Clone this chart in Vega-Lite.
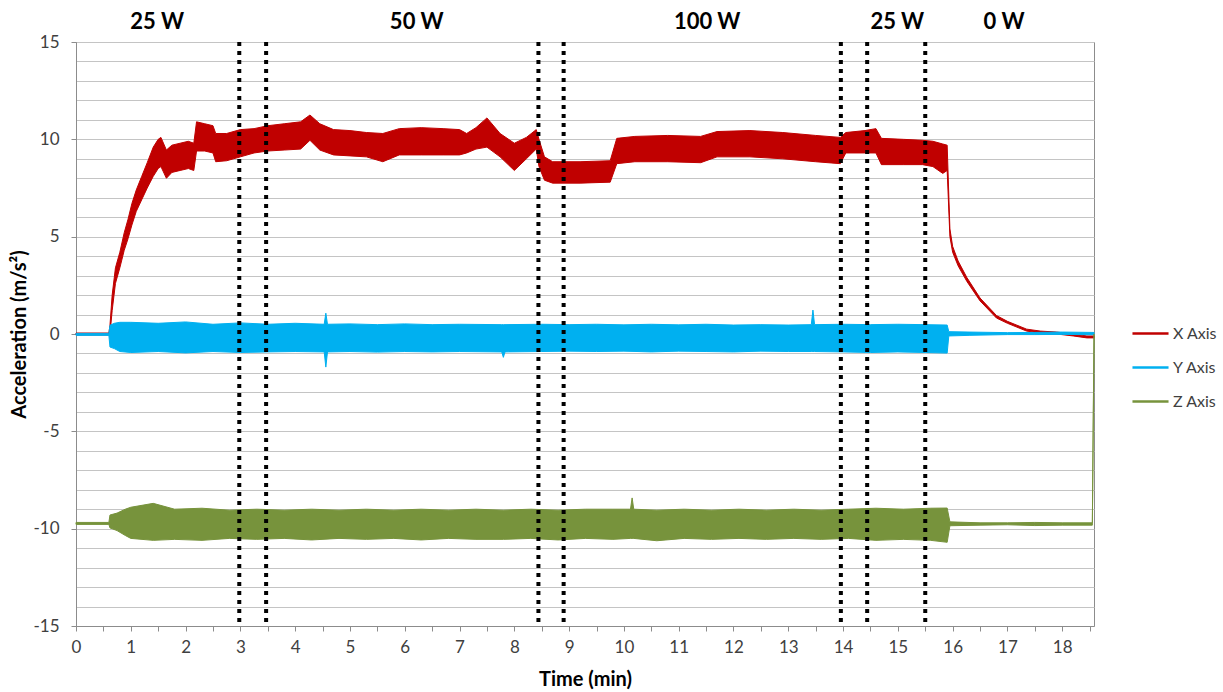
{
  "$schema": "https://vega.github.io/schema/vega-lite/v6.json",
  "width": 1018,
  "height": 584,
  "autosize": {"type": "none"},
  "padding": {"left": 76, "top": 42, "right": 129, "bottom": 66},
  "config": {
    "font": "Lato",
    "view": {"stroke": "#8c8c8c", "strokeWidth": 1},
    "axis": {"labelFont": "Lato", "titleFont": "Lato", "labelColor": "#404040", "titleColor": "#000000", "domainColor": "#8c8c8c", "tickColor": "#8c8c8c"}
  },
  "datasets": {
    "bands": [
      {"t": 0, "lo": -0.05, "hi": 0.05, "series": "X Axis"},
      {"t": 0.6, "lo": -0.05, "hi": 0.05, "series": "X Axis"},
      {"t": 0.62, "lo": 0.0, "hi": 0.45, "series": "X Axis"},
      {"t": 0.66, "lo": 1.2, "hi": 2.0, "series": "X Axis"},
      {"t": 0.72, "lo": 2.6, "hi": 3.4, "series": "X Axis"},
      {"t": 0.8, "lo": 3.4, "hi": 4.2, "series": "X Axis"},
      {"t": 0.88, "lo": 4.3, "hi": 5.2, "series": "X Axis"},
      {"t": 0.95, "lo": 4.9, "hi": 5.9, "series": "X Axis"},
      {"t": 1.02, "lo": 5.6, "hi": 6.7, "series": "X Axis"},
      {"t": 1.1, "lo": 6.3, "hi": 7.4, "series": "X Axis"},
      {"t": 1.2, "lo": 6.9, "hi": 8.1, "series": "X Axis"},
      {"t": 1.3, "lo": 7.5, "hi": 8.8, "series": "X Axis"},
      {"t": 1.41, "lo": 8.1, "hi": 9.6, "series": "X Axis"},
      {"t": 1.5, "lo": 8.5, "hi": 10.0, "series": "X Axis"},
      {"t": 1.55, "lo": 8.6, "hi": 10.1, "series": "X Axis"},
      {"t": 1.65, "lo": 8.0, "hi": 9.45, "series": "X Axis"},
      {"t": 1.75, "lo": 8.3, "hi": 9.7, "series": "X Axis"},
      {"t": 1.9, "lo": 8.4, "hi": 9.8, "series": "X Axis"},
      {"t": 2.05, "lo": 8.5, "hi": 9.9, "series": "X Axis"},
      {"t": 2.15, "lo": 8.4, "hi": 9.8, "series": "X Axis"},
      {"t": 2.2, "lo": 9.4, "hi": 10.9, "series": "X Axis"},
      {"t": 2.35, "lo": 9.4, "hi": 10.8, "series": "X Axis"},
      {"t": 2.5, "lo": 9.3, "hi": 10.7, "series": "X Axis"},
      {"t": 2.55, "lo": 8.85, "hi": 10.3, "series": "X Axis"},
      {"t": 2.75, "lo": 8.9, "hi": 10.3, "series": "X Axis"},
      {"t": 3.0, "lo": 9.1, "hi": 10.5, "series": "X Axis"},
      {"t": 3.25, "lo": 9.3, "hi": 10.55, "series": "X Axis"},
      {"t": 3.5, "lo": 9.4, "hi": 10.7, "series": "X Axis"},
      {"t": 3.8, "lo": 9.45, "hi": 10.8, "series": "X Axis"},
      {"t": 4.1, "lo": 9.5, "hi": 10.9, "series": "X Axis"},
      {"t": 4.27, "lo": 9.95, "hi": 11.25, "series": "X Axis"},
      {"t": 4.45, "lo": 9.45, "hi": 10.8, "series": "X Axis"},
      {"t": 4.7, "lo": 9.2, "hi": 10.5, "series": "X Axis"},
      {"t": 5.0, "lo": 9.15, "hi": 10.45, "series": "X Axis"},
      {"t": 5.3, "lo": 9.1, "hi": 10.35, "series": "X Axis"},
      {"t": 5.6, "lo": 8.85, "hi": 10.3, "series": "X Axis"},
      {"t": 5.9, "lo": 9.2, "hi": 10.55, "series": "X Axis"},
      {"t": 6.3, "lo": 9.2, "hi": 10.6, "series": "X Axis"},
      {"t": 6.7, "lo": 9.2, "hi": 10.55, "series": "X Axis"},
      {"t": 7.0, "lo": 9.2, "hi": 10.5, "series": "X Axis"},
      {"t": 7.13, "lo": 9.3, "hi": 10.3, "series": "X Axis"},
      {"t": 7.3, "lo": 9.5, "hi": 10.6, "series": "X Axis"},
      {"t": 7.5, "lo": 9.6, "hi": 11.1, "series": "X Axis"},
      {"t": 7.74, "lo": 9.1, "hi": 10.3, "series": "X Axis"},
      {"t": 8.0, "lo": 8.4, "hi": 9.8, "series": "X Axis"},
      {"t": 8.22, "lo": 9.0, "hi": 10.1, "series": "X Axis"},
      {"t": 8.4, "lo": 9.5, "hi": 10.5, "series": "X Axis"},
      {"t": 8.45, "lo": 8.6, "hi": 10.0, "series": "X Axis"},
      {"t": 8.55, "lo": 7.9, "hi": 9.1, "series": "X Axis"},
      {"t": 8.7, "lo": 7.75, "hi": 8.85, "series": "X Axis"},
      {"t": 9.2, "lo": 7.75, "hi": 8.85, "series": "X Axis"},
      {"t": 9.75, "lo": 7.8, "hi": 8.9, "series": "X Axis"},
      {"t": 9.87, "lo": 8.75, "hi": 10.05, "series": "X Axis"},
      {"t": 10.2, "lo": 8.85, "hi": 10.15, "series": "X Axis"},
      {"t": 10.8, "lo": 8.85, "hi": 10.2, "series": "X Axis"},
      {"t": 11.4, "lo": 8.8, "hi": 10.15, "series": "X Axis"},
      {"t": 11.7, "lo": 9.1, "hi": 10.4, "series": "X Axis"},
      {"t": 12.3, "lo": 9.1, "hi": 10.45, "series": "X Axis"},
      {"t": 12.9, "lo": 9.0, "hi": 10.35, "series": "X Axis"},
      {"t": 13.5, "lo": 8.85, "hi": 10.2, "series": "X Axis"},
      {"t": 13.95, "lo": 8.75, "hi": 10.1, "series": "X Axis"},
      {"t": 14.05, "lo": 9.3, "hi": 10.35, "series": "X Axis"},
      {"t": 14.4, "lo": 9.3, "hi": 10.45, "series": "X Axis"},
      {"t": 14.6, "lo": 9.3, "hi": 10.55, "series": "X Axis"},
      {"t": 14.7, "lo": 8.7, "hi": 10.05, "series": "X Axis"},
      {"t": 15.1, "lo": 8.7, "hi": 10.0, "series": "X Axis"},
      {"t": 15.45, "lo": 8.7, "hi": 9.95, "series": "X Axis"},
      {"t": 15.64, "lo": 8.6, "hi": 9.9, "series": "X Axis"},
      {"t": 15.82, "lo": 8.25, "hi": 9.76, "series": "X Axis"},
      {"t": 15.9, "lo": 8.4, "hi": 9.7, "series": "X Axis"},
      {"t": 15.95, "lo": 5.0, "hi": 5.4, "series": "X Axis"},
      {"t": 16.0, "lo": 4.2, "hi": 4.5, "series": "X Axis"},
      {"t": 16.1, "lo": 3.5, "hi": 3.75, "series": "X Axis"},
      {"t": 16.26, "lo": 2.7, "hi": 2.9, "series": "X Axis"},
      {"t": 16.5, "lo": 1.7, "hi": 1.85, "series": "X Axis"},
      {"t": 16.8, "lo": 0.82, "hi": 0.95, "series": "X Axis"},
      {"t": 17.0, "lo": 0.55, "hi": 0.65, "series": "X Axis"},
      {"t": 17.35, "lo": 0.15, "hi": 0.25, "series": "X Axis"},
      {"t": 17.6, "lo": 0.05, "hi": 0.15, "series": "X Axis"},
      {"t": 17.9, "lo": 0.0, "hi": 0.1, "series": "X Axis"},
      {"t": 18.2, "lo": -0.1, "hi": 0.0, "series": "X Axis"},
      {"t": 18.45, "lo": -0.2, "hi": -0.1, "series": "X Axis"},
      {"t": 18.58, "lo": -0.2, "hi": -0.1, "series": "X Axis"},

      {"t": 0, "lo": -0.07, "hi": 0.03, "series": "Y Axis"},
      {"t": 0.6, "lo": -0.07, "hi": 0.03, "series": "Y Axis"},
      {"t": 0.62, "lo": -0.67, "hi": 0.45, "series": "Y Axis"},
      {"t": 0.7, "lo": -0.75, "hi": 0.55, "series": "Y Axis"},
      {"t": 0.8, "lo": -0.9, "hi": 0.6, "series": "Y Axis"},
      {"t": 1.0, "lo": -0.95, "hi": 0.6, "series": "Y Axis"},
      {"t": 1.5, "lo": -0.9, "hi": 0.55, "series": "Y Axis"},
      {"t": 2.0, "lo": -0.97, "hi": 0.62, "series": "Y Axis"},
      {"t": 2.5, "lo": -0.9, "hi": 0.5, "series": "Y Axis"},
      {"t": 3.0, "lo": -0.95, "hi": 0.57, "series": "Y Axis"},
      {"t": 3.5, "lo": -0.92, "hi": 0.5, "series": "Y Axis"},
      {"t": 4.0, "lo": -0.9, "hi": 0.55, "series": "Y Axis"},
      {"t": 4.53, "lo": -0.92, "hi": 0.5, "series": "Y Axis"},
      {"t": 4.56, "lo": -1.7, "hi": 1.07, "series": "Y Axis"},
      {"t": 4.59, "lo": -0.92, "hi": 0.5, "series": "Y Axis"},
      {"t": 5.0, "lo": -0.9, "hi": 0.52, "series": "Y Axis"},
      {"t": 5.5, "lo": -0.93, "hi": 0.48, "series": "Y Axis"},
      {"t": 6.0, "lo": -0.9, "hi": 0.52, "series": "Y Axis"},
      {"t": 6.5, "lo": -0.92, "hi": 0.48, "series": "Y Axis"},
      {"t": 7.0, "lo": -0.9, "hi": 0.5, "series": "Y Axis"},
      {"t": 7.77, "lo": -0.92, "hi": 0.48, "series": "Y Axis"},
      {"t": 7.8, "lo": -1.2, "hi": 0.48, "series": "Y Axis"},
      {"t": 7.83, "lo": -0.92, "hi": 0.48, "series": "Y Axis"},
      {"t": 8.5, "lo": -0.9, "hi": 0.5, "series": "Y Axis"},
      {"t": 9.0, "lo": -0.88, "hi": 0.48, "series": "Y Axis"},
      {"t": 9.5, "lo": -0.9, "hi": 0.5, "series": "Y Axis"},
      {"t": 10.0, "lo": -0.88, "hi": 0.47, "series": "Y Axis"},
      {"t": 10.5, "lo": -0.92, "hi": 0.5, "series": "Y Axis"},
      {"t": 11.0, "lo": -0.88, "hi": 0.47, "series": "Y Axis"},
      {"t": 11.5, "lo": -0.9, "hi": 0.5, "series": "Y Axis"},
      {"t": 12.0, "lo": -0.92, "hi": 0.46, "series": "Y Axis"},
      {"t": 12.5, "lo": -0.88, "hi": 0.48, "series": "Y Axis"},
      {"t": 13.0, "lo": -0.9, "hi": 0.46, "series": "Y Axis"},
      {"t": 13.42, "lo": -0.9, "hi": 0.48, "series": "Y Axis"},
      {"t": 13.45, "lo": -0.9, "hi": 1.23, "series": "Y Axis"},
      {"t": 13.48, "lo": -0.9, "hi": 0.48, "series": "Y Axis"},
      {"t": 14.0, "lo": -0.92, "hi": 0.5, "series": "Y Axis"},
      {"t": 14.5, "lo": -0.95, "hi": 0.48, "series": "Y Axis"},
      {"t": 15.0, "lo": -0.92, "hi": 0.5, "series": "Y Axis"},
      {"t": 15.5, "lo": -0.95, "hi": 0.48, "series": "Y Axis"},
      {"t": 15.9, "lo": -0.98, "hi": 0.46, "series": "Y Axis"},
      {"t": 15.93, "lo": -0.1, "hi": 0.12, "series": "Y Axis"},
      {"t": 16.3, "lo": -0.07, "hi": 0.1, "series": "Y Axis"},
      {"t": 17.0, "lo": -0.03, "hi": 0.07, "series": "Y Axis"},
      {"t": 17.5, "lo": -0.03, "hi": 0.08, "series": "Y Axis"},
      {"t": 18.0, "lo": -0.02, "hi": 0.1, "series": "Y Axis"},
      {"t": 18.58, "lo": -0.04, "hi": 0.08, "series": "Y Axis"},

      {"t": 0, "lo": -9.78, "hi": -9.68, "series": "Z Axis"},
      {"t": 0.6, "lo": -9.78, "hi": -9.68, "series": "Z Axis"},
      {"t": 0.62, "lo": -9.96, "hi": -9.3, "series": "Z Axis"},
      {"t": 0.75, "lo": -10.1, "hi": -9.2, "series": "Z Axis"},
      {"t": 0.9, "lo": -10.35, "hi": -9.0, "series": "Z Axis"},
      {"t": 1.0, "lo": -10.5, "hi": -8.9, "series": "Z Axis"},
      {"t": 1.41, "lo": -10.6, "hi": -8.7, "series": "Z Axis"},
      {"t": 1.8, "lo": -10.55, "hi": -9.0, "series": "Z Axis"},
      {"t": 2.3, "lo": -10.6, "hi": -8.95, "series": "Z Axis"},
      {"t": 2.8, "lo": -10.5, "hi": -9.05, "series": "Z Axis"},
      {"t": 3.3, "lo": -10.55, "hi": -9.0, "series": "Z Axis"},
      {"t": 3.8, "lo": -10.5, "hi": -9.05, "series": "Z Axis"},
      {"t": 4.3, "lo": -10.58, "hi": -9.0, "series": "Z Axis"},
      {"t": 4.8, "lo": -10.5, "hi": -9.05, "series": "Z Axis"},
      {"t": 5.3, "lo": -10.55, "hi": -9.0, "series": "Z Axis"},
      {"t": 5.8, "lo": -10.5, "hi": -9.05, "series": "Z Axis"},
      {"t": 6.3, "lo": -10.58, "hi": -9.0, "series": "Z Axis"},
      {"t": 6.8, "lo": -10.5, "hi": -9.05, "series": "Z Axis"},
      {"t": 7.3, "lo": -10.55, "hi": -9.0, "series": "Z Axis"},
      {"t": 7.8, "lo": -10.55, "hi": -9.05, "series": "Z Axis"},
      {"t": 8.3, "lo": -10.5, "hi": -9.0, "series": "Z Axis"},
      {"t": 8.8, "lo": -10.58, "hi": -9.05, "series": "Z Axis"},
      {"t": 9.3, "lo": -10.5, "hi": -9.0, "series": "Z Axis"},
      {"t": 9.8, "lo": -10.55, "hi": -9.0, "series": "Z Axis"},
      {"t": 10.12, "lo": -10.5, "hi": -9.0, "series": "Z Axis"},
      {"t": 10.15, "lo": -10.5, "hi": -8.42, "series": "Z Axis"},
      {"t": 10.18, "lo": -10.5, "hi": -9.0, "series": "Z Axis"},
      {"t": 10.6, "lo": -10.62, "hi": -9.05, "series": "Z Axis"},
      {"t": 11.1, "lo": -10.5, "hi": -9.0, "series": "Z Axis"},
      {"t": 11.6, "lo": -10.55, "hi": -9.05, "series": "Z Axis"},
      {"t": 12.1, "lo": -10.5, "hi": -9.0, "series": "Z Axis"},
      {"t": 12.6, "lo": -10.55, "hi": -9.05, "series": "Z Axis"},
      {"t": 13.1, "lo": -10.5, "hi": -9.0, "series": "Z Axis"},
      {"t": 13.6, "lo": -10.55, "hi": -9.05, "series": "Z Axis"},
      {"t": 14.1, "lo": -10.5, "hi": -9.0, "series": "Z Axis"},
      {"t": 14.6, "lo": -10.6, "hi": -8.95, "series": "Z Axis"},
      {"t": 15.1, "lo": -10.55, "hi": -9.0, "series": "Z Axis"},
      {"t": 15.6, "lo": -10.6, "hi": -8.95, "series": "Z Axis"},
      {"t": 15.9, "lo": -10.7, "hi": -8.94, "series": "Z Axis"},
      {"t": 15.95, "lo": -9.85, "hi": -9.65, "series": "Z Axis"},
      {"t": 16.5, "lo": -9.82, "hi": -9.7, "series": "Z Axis"},
      {"t": 17.0, "lo": -9.8, "hi": -9.7, "series": "Z Axis"},
      {"t": 17.5, "lo": -9.84, "hi": -9.68, "series": "Z Axis"},
      {"t": 18.0, "lo": -9.82, "hi": -9.7, "series": "Z Axis"},
      {"t": 18.55, "lo": -9.82, "hi": -9.7, "series": "Z Axis"},
      {"t": 18.58, "lo": -0.05, "hi": 0.0, "series": "Z Axis"}
    ],
    "rules": [
      {"t": 2.98}, {"t": 3.47}, {"t": 8.44}, {"t": 8.9}, {"t": 13.96}, {"t": 14.44}, {"t": 15.5}
    ],
    "labels": [
      {"t": 1.48, "v": 16.05, "text": "25 W"},
      {"t": 6.22, "v": 16.05, "text": "50 W"},
      {"t": 11.52, "v": 16.05, "text": "100 W"},
      {"t": 14.99, "v": 16.05, "text": "25 W"},
      {"t": 16.94, "v": 16.05, "text": "0 W"}
    ]
  },
  "layer": [
    {
      "data": {"name": "bands"},
      "mark": {"type": "area", "strokeWidth": 1, "interpolate": "linear"},
      "encoding": {
        "x": {
          "field": "t", "type": "quantitative",
          "scale": {"domain": [0, 18.58], "nice": false, "zero": false},
          "axis": {
            "title": "Time (min)", "titleFontSize": 20, "titleFontWeight": "bold", "titlePadding": 14,
            "values": [0,0.5,1,1.5,2,2.5,3,3.5,4,4.5,5,5.5,6,6.5,7,7.5,8,8.5,9,9.5,10,10.5,11,11.5,12,12.5,13,13.5,14,14.5,15,15.5,16,16.5,17,17.5,18,18.5],
            "tickCount": 500,
            "labelExpr": "datum.value % 1 === 0 ? '' + datum.value : ''",
            "labelFontSize": 17, "labelPadding": 8, "tickSize": 5, "grid": false, "labelFlush": false, "labelOverlap": false
          }
        },
        "y": {
          "field": "lo", "type": "quantitative",
          "scale": {"domain": [-15, 15], "nice": false, "zero": false},
          "axis": {
            "title": "Acceleration (m/s²)", "titleFontSize": 20, "titleFontWeight": "bold", "titlePadding": 3,
            "values": [-15,-14,-13,-12,-11,-10,-9,-8,-7,-6,-5,-4,-3,-2,-1,0,1,2,3,4,5,6,7,8,9,10,11,12,13,14,15],
            "tickCount": 500,
            "labelExpr": "datum.value % 5 === 0 ? '' + datum.value : ''",
            "labelFontSize": 17, "labelPadding": 12, "tickSize": 5,
            "tickOpacity": {"condition": {"test": "datum.value % 5 === 0", "value": 1}, "value": 0},
            "grid": true, "gridColor": "#c4c4c4", "gridWidth": 1, "labelOverlap": false
          }
        },
        "y2": {"field": "hi"},
        "fill": {
          "field": "series", "type": "nominal",
          "scale": {"domain": ["X Axis", "Y Axis", "Z Axis"], "range": ["#C00000", "#00B0F0", "#77933C"]},
          "legend": {"title": null, "orient": "none", "legendX": 1055, "legendY": 272, "symbolType": "stroke", "symbolSize": 1300, "symbolStrokeWidth": 2.5, "labelFontSize": 16, "labelFont": "Lato", "labelColor": "#404040", "labelOffset": 3, "rowPadding": 6}
        },
        "stroke": {
          "field": "series", "type": "nominal",
          "scale": {"domain": ["X Axis", "Y Axis", "Z Axis"], "range": ["#C00000", "#00B0F0", "#77933C"]},
          "legend": {"title": null, "orient": "none", "legendX": 1055, "legendY": 272, "symbolType": "stroke", "symbolSize": 1300, "symbolStrokeWidth": 2.5, "labelFontSize": 16, "labelFont": "Lato", "labelColor": "#404040", "labelOffset": 3, "rowPadding": 6}
        }
      }
    },
    {
      "data": {"name": "rules"},
      "mark": {"type": "rule", "color": "#000000", "strokeWidth": 4, "strokeDash": [4, 5]},
      "encoding": {
        "x": {"field": "t", "type": "quantitative"}
      }
    },
    {
      "data": {"name": "labels"},
      "mark": {"type": "text", "fontSize": 22, "fontWeight": "bold", "font": "Lato", "color": "#000000", "baseline": "middle", "align": "center"},
      "encoding": {
        "x": {"field": "t", "type": "quantitative"},
        "y": {"field": "v", "type": "quantitative"},
        "text": {"field": "text"}
      }
    }
  ]
}
